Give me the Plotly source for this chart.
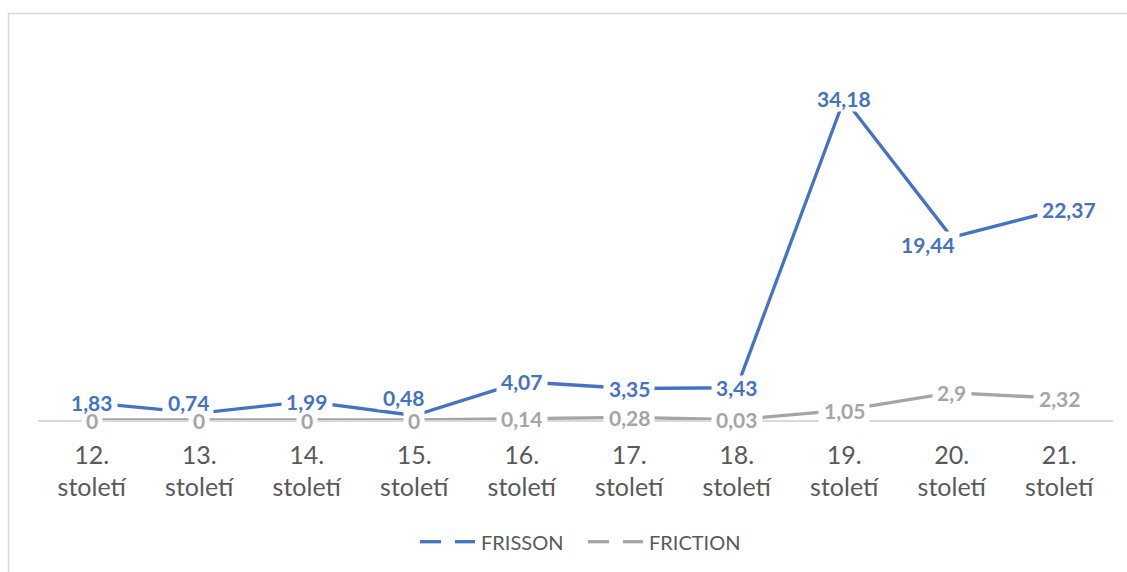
import plotly.graph_objects as go

categories = ["12.<br>století", "13.<br>století", "14.<br>století", "15.<br>století",
              "16.<br>století", "17.<br>století", "18.<br>století", "19.<br>století",
              "20.<br>století", "21.<br>století"]
frisson = [1.83, 0.74, 1.99, 0.48, 4.07, 3.35, 3.43, 34.18, 19.44, 22.37]
friction = [0, 0, 0, 0, 0.14, 0.28, 0.03, 1.05, 2.9, 2.32]
series_names = ["FRISSON", "FRICTION"]

BLUE = "#4472C4"
GRAY = "#A5A5A5"
TXT = "#595959"
FONT = "Lato"
LBL_SIZE = 21

# label nudges (px) mimicking Excel's automatic label placement
frisson_shift = [(0, 0), (-11, 11), (0, 0), (-11, 18), (0, 0), (0, 0), (0, 0), (0, 0), (-24, -7), (10, 0)]
friction_shift = [(0, 0)] * 10


def fmt(v):
    return f"{v:g}".replace(".", ",")


def text_w(s):
    # approx width of bold label text (px)
    return sum(0.26 * LBL_SIZE if ch == "," else 0.58 * LBL_SIZE for ch in s)


fig = go.Figure()
for name, vals, col in [(series_names[1], friction, GRAY), (series_names[0], frisson, BLUE)]:
    fig.add_trace(go.Scatter(x=categories, y=vals, mode="lines", name=name,
                             line=dict(color=col, width=3.3), showlegend=False,
                             hoverinfo="skip"))

label_sets = [(frisson, BLUE, frisson_shift), (friction, GRAY, friction_shift)]
annotations = []
# white knock-out boxes behind labels (break the lines like Excel)
for vals, col, shifts in label_sets:
    for c, v, (dx, dy) in zip(categories, vals, shifts):
        annotations.append(dict(
            x=c, y=v, xref="x", yref="y", text="&nbsp;", showarrow=False,
            font=dict(family=FONT, size=12, color="white"),
            width=text_w(fmt(v)) + 8, height=24, bgcolor="white", borderpad=0,
            xshift=dx, yshift=dy, xanchor="center", yanchor="middle"))
# coloured label texts on top
for vals, col, shifts in label_sets:
    for c, v, (dx, dy) in zip(categories, vals, shifts):
        annotations.append(dict(
            x=c, y=v, xref="x", yref="y", text=fmt(v), showarrow=False,
            font=dict(family=FONT, size=LBL_SIZE, color=col, weight="bold"),
            borderpad=0, xshift=dx, yshift=dy, xanchor="center", yanchor="middle"))

L, R, T, B = 38, 14, 44, 152
W, H = 1127, 572
pw, ph = W - L - R, H - T - B


def px2paper_x(px):
    return (px - L) / pw


def px2paper_y(py):
    return (H - B - py) / ph


shapes = [dict(type="rect", xref="paper", yref="paper", layer="below",
               x0=px2paper_x(8.5), x1=px2paper_x(1135), y0=px2paper_y(580), y1=px2paper_y(13.5),
               line=dict(color="#D9D9D9", width=1.5), fillcolor="rgba(0,0,0,0)")]

# manual legend (Excel-style keys: dash - gap - dash)
leg_y = px2paper_y(541.7)
for name, col, x0 in [(series_names[0], BLUE, 420), (series_names[1], GRAY, 588)]:
    for a, b in [(x0, x0 + 21), (x0 + 35, x0 + 55)]:
        shapes.append(dict(type="line", xref="paper", yref="paper",
                           x0=px2paper_x(a), x1=px2paper_x(b), y0=leg_y, y1=leg_y,
                           line=dict(color=col, width=3.3)))
    annotations.append(dict(x=px2paper_x(x0 + 59), y=leg_y, xref="paper", yref="paper",
                            text=name, showarrow=False, xanchor="left", yanchor="middle",
                            font=dict(family=FONT, size=20, color=TXT)))

fig.update_layout(
    width=W, height=H,
    margin=dict(l=L, r=R, t=T, b=B),
    paper_bgcolor="white", plot_bgcolor="white",
    font=dict(family=FONT, color=TXT),
    showlegend=False,
    annotations=annotations,
    shapes=shapes,
    xaxis=dict(type="category", range=[-0.5, 9.5], showgrid=False, zeroline=False,
               showline=True, linecolor="#D9D9D9", linewidth=1.5, ticks="",
               tickfont=dict(family=FONT, size=25, color=TXT), layer="below traces",
               ticklabelstandoff=12, fixedrange=True),
    yaxis=dict(range=[0, 40], visible=False, showgrid=False, zeroline=False, fixedrange=True),
)

fig.write_html("out.html")
